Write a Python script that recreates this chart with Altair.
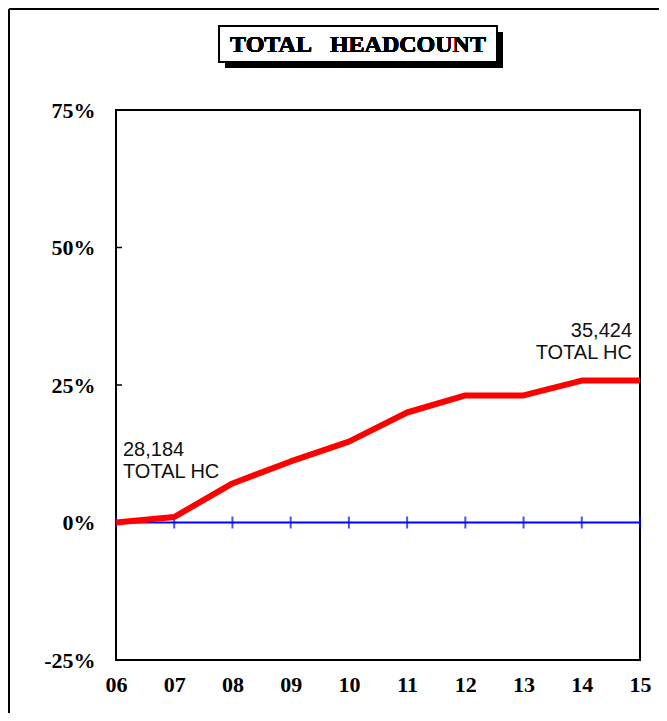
import altair as alt
import pandas as pd

# ---- data ----
years = ["06", "07", "08", "09", "10", "11", "12", "13", "14", "15"]
growth_pct = [0.0, 1.0, 7.1, 11.1, 14.7, 20.0, 23.1, 23.1, 25.8, 25.8]
y_ticks = [-0.25, 0.0, 0.25, 0.5, 0.75]
inner_ticks = [0.25, 0.5]
start_label = "28,184\nTOTAL HC"
end_label = "35,424\nTOTAL HC"
title_text = "TOTAL\u00a0\u00a0\u00a0HEADCOUNT"

W, H = 524, 550

df = pd.DataFrame({"year": years, "growth": [g / 100 for g in growth_pct]})
zero_df = pd.DataFrame({"year": years, "zero": [0.0] * len(years)})
tick_df = pd.DataFrame({"v": inner_ticks})
ann_start = pd.DataFrame({"year": [years[0]], "growth": [df.growth.iloc[0]], "t": [start_label]})
ann_end = pd.DataFrame({"year": [years[-1]], "growth": [df.growth.iloc[-1]], "t": [end_label]})

x_enc = alt.X(
    "year:O",
    scale=alt.Scale(type="point", padding=0, domain=years),
    axis=alt.Axis(
        title=None, ticks=False, domain=False, grid=False, labelAngle=0,
        labelFont="Liberation Serif", labelFontWeight="bold", labelFontSize=22,
        labelColor="black", labelPadding=14,
    ),
)
y_scale = alt.Scale(domain=[-0.25, 0.75], nice=False, zero=False)
y_axis = alt.Axis(
    title=None, ticks=False, domain=False, grid=False, values=y_ticks,
    labelExpr="toString(round(datum.value*100)) + '%'",
    labelFont="Liberation Serif", labelFontWeight="bold", labelFontSize=22,
    labelColor="black", labelPadding=21,
)

base = alt.Chart(df)

# outer frame (only top and left edges fall inside the picture)
frame_top = base.mark_rule(color="black", strokeWidth=2).encode(
    x=alt.value(-107), x2=alt.value(W + 19), y=alt.value(-101)
)
frame_left = base.mark_rule(color="black", strokeWidth=2).encode(
    x=alt.value(-107), y=alt.value(-101), y2=alt.value(H + 53)
)

zero_line = alt.Chart(zero_df).mark_line(color="#0000FF", strokeWidth=2).encode(
    x=x_enc, y=alt.Y("zero:Q", scale=y_scale, axis=y_axis)
)
zero_ticks = alt.Chart(zero_df).mark_tick(
    color="#0000FF", orient="vertical", size=12, thickness=2
).encode(x=x_enc, y=alt.Y("zero:Q", scale=y_scale, axis=y_axis))

y_inner = alt.Chart(tick_df).mark_rule(color="black", strokeWidth=1.5).encode(
    x=alt.value(0), x2=alt.value(6), y=alt.Y("v:Q", scale=y_scale, axis=y_axis)
)

red_line = base.mark_line(color="#FF0000", strokeWidth=6, strokeJoin="round").encode(
    x=x_enc, y=alt.Y("growth:Q", scale=y_scale, axis=y_axis)
)

txt_start = alt.Chart(ann_start).mark_text(
    align="left", baseline="alphabetic", dx=7, dy=-67, lineBreak="\n", lineHeight=22,
    font="Liberation Sans", fontSize=20, color="#111111",
).encode(x=x_enc, y=alt.Y("growth:Q", scale=y_scale, axis=y_axis), text="t:N")

txt_end = alt.Chart(ann_end).mark_text(
    align="right", baseline="alphabetic", dx=-8, dy=-44, lineBreak="\n", lineHeight=22,
    font="Liberation Sans", fontSize=20, color="#111111",
).encode(x=x_enc, y=alt.Y("growth:Q", scale=y_scale, axis=y_axis), text="t:N")

# title box with drop shadow
shadow = base.mark_rect(color="black").encode(
    x=alt.value(109), x2=alt.value(387), y=alt.value(-78), y2=alt.value(-42)
)
box = base.mark_rect(fill="white", stroke="black", strokeWidth=2).encode(
    x=alt.value(103), x2=alt.value(381), y=alt.value(-84), y2=alt.value(-48)
)
title = base.mark_text(
    align="center", baseline="alphabetic", font="Liberation Serif",
    fontWeight="bold", fontSize=24, color="black",
).encode(x=alt.value(242), y=alt.value(-58), text=alt.value(title_text))

chart = alt.layer(
    frame_top, frame_left, zero_line, zero_ticks, y_inner, red_line,
    txt_start, txt_end, shadow, box, title,
).properties(
    width=W, height=H,
    autosize=alt.AutoSizeParams(type="none"),
    padding={"left": 108, "top": 102, "right": 19, "bottom": 53},
    background="white",
).configure_view(stroke="black", strokeWidth=2)

chart.save("out.html", embed_options={"renderer": "svg", "actions": False})
